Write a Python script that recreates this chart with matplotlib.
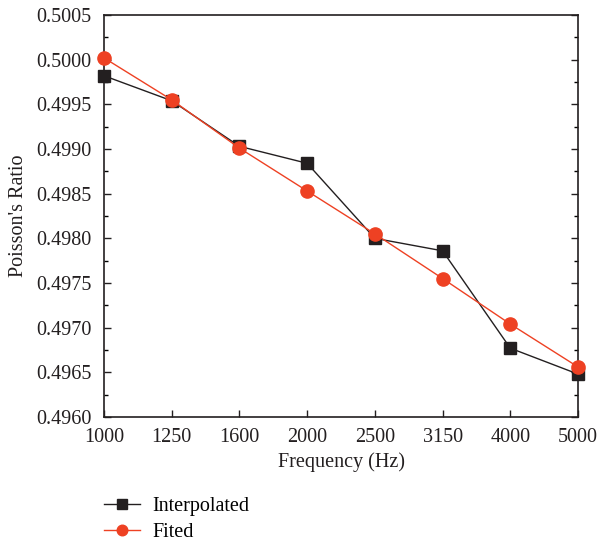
import matplotlib
matplotlib.use("Agg")
import matplotlib.pyplot as plt
from matplotlib.ticker import MultipleLocator, AutoMinorLocator

plt.rcParams['font.family'] = ['Liberation Serif', 'DejaVu Serif']

categories = ["1000", "1250", "1600", "2000", "2500", "3150", "4000", "5000"]
interpolated = [0.49982, 0.49954, 0.49903, 0.49884, 0.49800, 0.49786, 0.49677, 0.49648]
fitted = [0.50002, 0.49955, 0.49901, 0.49853, 0.49805, 0.49755, 0.49704, 0.49656]

black = "#231f20"
red = "#ee4123"

fig = plt.figure(figsize=(5.98, 5.44), dpi=100)
ax = fig.add_axes([0.1739, 0.2335, 0.9666 - 0.1739, 0.9724 - 0.2335])

x = list(range(len(categories)))
ax.plot(x, interpolated, color=black, lw=1.0, marker='s', markersize=8.5,
        markerfacecolor=black, markeredgecolor=black, label="Interpolated",
        zorder=3, clip_on=False)
ax.plot(x, fitted, color=red, lw=1.0, marker='o', markersize=9.5,
        markerfacecolor=red, markeredgecolor=red, label="Fited",
        zorder=4, clip_on=False)

ax.set_xlim(0, len(categories) - 1)
ax.set_ylim(0.4960, 0.5005)
ax.set_xticks(x)
ax.set_xticklabels(categories)
ax.yaxis.set_major_locator(MultipleLocator(0.0005))
ax.yaxis.set_minor_locator(AutoMinorLocator(2))
ax.yaxis.set_major_formatter(matplotlib.ticker.FormatStrFormatter('%.4f'))

ax.tick_params(axis='both', which='major', direction='in', length=5, width=1,
               labelsize=14.5, colors=black, top=False, right=True)
ax.tick_params(axis='x', which='major', pad=8)
ax.tick_params(axis='y', which='major', pad=9)
ax.tick_params(axis='y', which='minor', direction='in', length=3, width=1, right=True)
for s in ax.spines.values():
    s.set_linewidth(1.2)
    s.set_color(black)

ax.set_xlabel("Frequency (Hz)", fontsize=14.5, color=black, labelpad=4)
ax.set_ylabel("Poisson's Ratio", fontsize=14.5, color=black, labelpad=6)

leg = ax.legend(loc='upper left', bbox_to_anchor=(-0.016, -0.18), frameon=False,
                fontsize=14.5, handlelength=1.75, labelspacing=0.3, handletextpad=0.65,
                borderaxespad=0, markerscale=0.8)

fig.savefig("out.png", dpi=100)
